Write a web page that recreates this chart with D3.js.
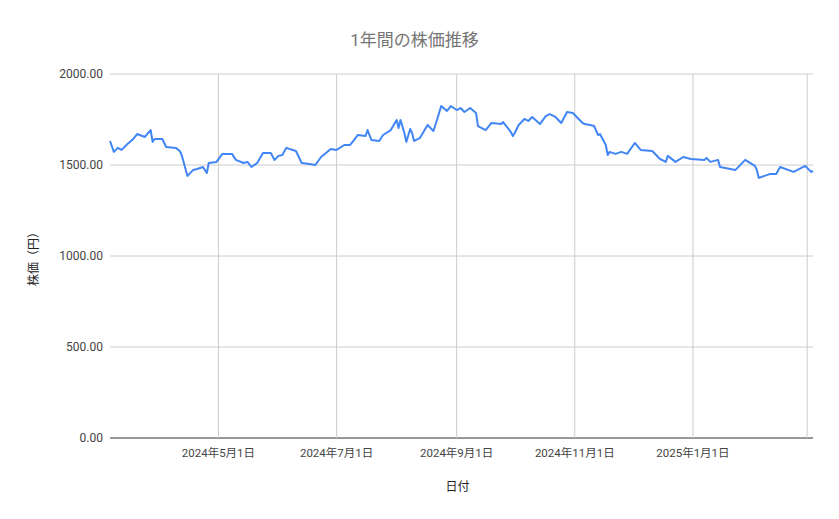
<!DOCTYPE html>
<html><head><meta charset="utf-8">
<script src="https://cdn.jsdelivr.net/npm/d3@7"></script>
<style>body{margin:0;background:#fff}text{font-family:Roboto,"Noto Sans CJK JP",sans-serif}</style>
</head><body><div id="chart"></div>
<script>
const dates = ["2024-03-06","2024-03-08","2024-03-10","2024-03-12","2024-03-15","2024-03-18","2024-03-20","2024-03-24","2024-03-27","2024-03-28","2024-03-29","2024-04-02","2024-04-04","2024-04-09","2024-04-11","2024-04-12","2024-04-15","2024-04-18","2024-04-20","2024-04-23","2024-04-25","2024-04-26","2024-04-30","2024-05-03","2024-05-08","2024-05-10","2024-05-14","2024-05-16","2024-05-18","2024-05-21","2024-05-24","2024-05-28","2024-05-30","2024-06-01","2024-06-03","2024-06-05","2024-06-10","2024-06-13","2024-06-17","2024-06-20","2024-06-23","2024-06-28","2024-07-01","2024-07-05","2024-07-08","2024-07-10","2024-07-12","2024-07-16","2024-07-17","2024-07-19","2024-07-23","2024-07-25","2024-07-29","2024-08-01","2024-08-02","2024-08-03","2024-08-05","2024-08-06","2024-08-08","2024-08-09","2024-08-10","2024-08-13","2024-08-17","2024-08-20","2024-08-22","2024-08-24","2024-08-27","2024-08-29","2024-09-01","2024-09-03","2024-09-05","2024-09-08","2024-09-11","2024-09-12","2024-09-16","2024-09-19","2024-09-24","2024-09-25","2024-09-29","2024-09-30","2024-10-01","2024-10-03","2024-10-06","2024-10-08","2024-10-10","2024-10-14","2024-10-17","2024-10-19","2024-10-22","2024-10-25","2024-10-28","2024-10-31","2024-11-03","2024-11-05","2024-11-06","2024-11-09","2024-11-11","2024-11-13","2024-11-14","2024-11-17","2024-11-18","2024-11-19","2024-11-22","2024-11-25","2024-11-28","2024-12-02","2024-12-05","2024-12-11","2024-12-15","2024-12-18","2024-12-19","2024-12-23","2024-12-27","2024-12-31","2025-01-07","2025-01-08","2025-01-10","2025-01-14","2025-01-15","2025-01-23","2025-01-26","2025-01-28","2025-02-02","2025-02-03","2025-02-04","2025-02-10","2025-02-13","2025-02-15","2025-02-22","2025-02-28","2025-03-03","2025-03-04"];
const prices = [1632,1572,1594,1583,1615,1643,1670,1654,1692,1627,1643,1643,1599,1594,1577,1555,1440,1473,1478,1489,1456,1511,1517,1561,1561,1528,1511,1517,1489,1511,1566,1566,1528,1550,1555,1594,1577,1511,1506,1500,1544,1588,1583,1610,1610,1637,1665,1659,1692,1637,1632,1665,1692,1747,1703,1747,1676,1627,1698,1676,1632,1648,1720,1687,1753,1824,1797,1824,1802,1813,1791,1813,1786,1714,1692,1731,1725,1736,1681,1659,1676,1720,1753,1742,1764,1725,1769,1780,1764,1731,1791,1786,1753,1731,1725,1720,1714,1665,1670,1610,1555,1572,1561,1572,1561,1621,1583,1577,1533,1517,1550,1517,1544,1533,1528,1539,1517,1528,1489,1473,1506,1528,1495,1473,1429,1451,1451,1489,1462,1495,1462,1467];
const yTicks = [0,500,1000,1500,2000];
const xTicks = ["2024-05-01","2024-07-01","2024-09-01","2024-11-01","2025-01-01","2025-03-01"];
const xLabels = ["2024年5月1日","2024年7月1日","2024年9月1日","2024年11月1日","2025年1月1日",""];

const W = 839, H = 519, L = 110, R = 813, T = 74, B = 438;
const parse = d3.timeParse("%Y-%m-%d");
const data = dates.map((d,i)=>({d:parse(d), v:prices[i]}));
const svg = d3.select("#chart").append("svg").attr("width",W).attr("height",H);

const x = d3.scaleTime().domain([parse("2024-03-06"), parse("2025-03-04")]).range([L,R]);
const y = d3.scaleLinear().domain([0,2000]).range([B,T]);

svg.append("g").selectAll("line").data(yTicks).enter().append("line")
  .attr("x1",L).attr("x2",R).attr("y1",d=>y(d)).attr("y2",d=>y(d))
  .attr("stroke",d=>d===0?"#333":"#ccc").attr("stroke-width",1);
svg.append("g").selectAll("text").data(yTicks).enter().append("text")
  .attr("x",L-7).attr("y",d=>y(d)+4).attr("text-anchor","end")
  .attr("font-size",12).attr("fill","#444").text(d=>d3.format(".2f")(d));

svg.append("g").selectAll("line").data(xTicks).enter().append("line")
  .attr("x1",d=>x(parse(d))).attr("x2",d=>x(parse(d))).attr("y1",T).attr("y2",B)
  .attr("stroke","#ccc");
svg.append("g").selectAll("text").data(xTicks).enter().append("text")
  .attr("x",d=>x(parse(d))).attr("y",B+19).attr("text-anchor","middle")
  .attr("font-size",11.5).attr("fill","#444").text((d,i)=>xLabels[i]);

svg.append("path").datum(data).attr("fill","none").attr("stroke","#4285f4").attr("stroke-width",2)
  .attr("stroke-linejoin","round")
  .attr("d", d3.line().x(d=>x(d.d)).y(d=>y(d.v)));

svg.append("text").attr("x",W/2-5).attr("y",46).attr("text-anchor","middle")
  .attr("font-size",17).attr("fill","#757575").text("1年間の株価推移");
svg.append("text").attr("x",W/2+38).attr("y",491).attr("text-anchor","middle")
  .attr("font-size",12).attr("fill","#222").text("日付");
svg.append("text").attr("transform",`translate(38,${(T+B)/2}) rotate(-90)`).attr("text-anchor","middle")
  .attr("font-size",12).attr("fill","#222").text("株価（円）");
</script></body></html>
